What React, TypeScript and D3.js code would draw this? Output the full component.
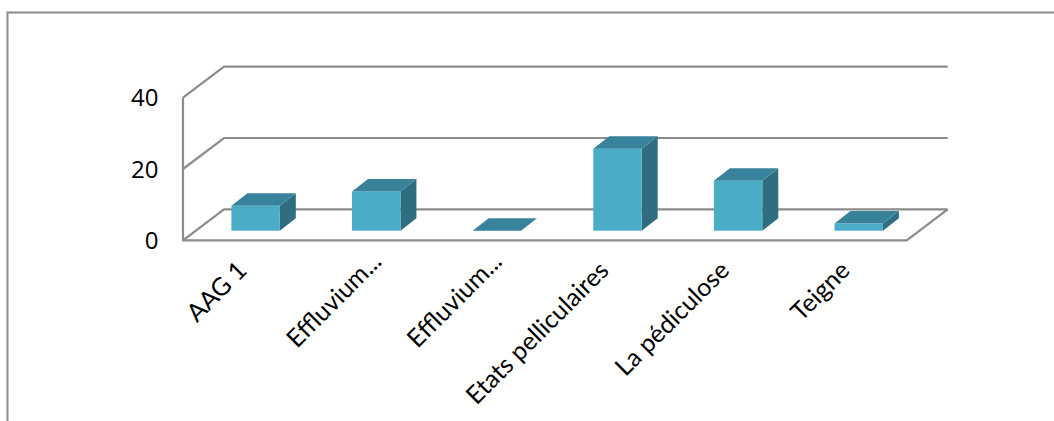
import React from "react";
import * as d3 from "d3";

const categories = ["AAG 1", "Effluvium...", "Effluvium...", "Etats pelliculaires", "La pédiculose", "Teigne"];
const values = [7, 11, 0, 23, 14, 2];
const yTicks = [0, 20, 40];

const WIDTH = 1054;
const HEIGHT = 421;
const FONT = "Lato, Carlito, Calibri, sans-serif";
const TICK_FONT = "'Open Sans', Carlito, Calibri, sans-serif";
const LINE = "#8c8c8c";

// Oblique projection of the floor and of each column
const wallDepth = { dx: 41, dy: -31 };
const barDepth = { dx: 16, dy: -12.5 };
const barFloorY = 230.7;

const x = d3.scaleBand<number>().domain(d3.range(categories.length)).range([183, 906.7]);
const y = d3.scaleLinear().domain([0, 40]).range([240.3, 97.7]);
const h = d3.scaleLinear().domain([0, 40]).range([0, 142.6]);
const barWidth = 48.4;
const barShift = 12.3;

// Truncated labels sit further up their diagonal than the full ones
const labelOffset = (c: string) => (c.endsWith("...") ? { dx: 14, dy: -9 } : { dx: 0, dy: 0 });

function poly(points: [number, number][]) {
  return points.map((p) => p.join(",")).join(" ");
}

export default function App() {
  const left = x.range()[0];
  const right = x.range()[1];
  return (
    <svg
      width={WIDTH}
      height={HEIGHT}
      style={{ position: "absolute", left: 0, top: 0, background: "#fff" }}
    >
      <path d={`M7.5,${HEIGHT}V12.5H${WIDTH}`} fill="none" stroke={LINE} strokeWidth={2} />

      {/* Back wall gridlines with their side-wall returns */}
      {yTicks.map((t) => (
        <polyline
          key={t}
          points={poly([
            [left, y(t)],
            [left + wallDepth.dx, y(t) + wallDepth.dy],
            [right + wallDepth.dx, y(t) + wallDepth.dy],
          ])}
          fill="none"
          stroke={LINE}
          strokeWidth={2.2}
        />
      ))}
      <polyline
        points={poly([
          [left, y(40)],
          [left, y(0)],
          [right, y(0)],
          [right + wallDepth.dx, y(0) + wallDepth.dy],
        ])}
        fill="none"
        stroke={LINE}
        strokeWidth={2.2}
      />

      {/* Columns */}
      {values.map((v, i) => {
        const x0 = x(i)! + x.bandwidth() / 2 - barWidth / 2 + barShift;
        const x1 = x0 + barWidth;
        const top = barFloorY - h(v);
        const { dx, dy } = barDepth;
        return (
          <g key={i}>
            <polygon
              points={poly([[x1, top], [x1 + dx, top + dy], [x1 + dx, barFloorY + dy], [x1, barFloorY]])}
              fill="#2f6e80"
            />
            <rect x={x0} y={top} width={barWidth} height={h(v)} fill="#4bacc6" />
            <polygon
              points={poly([[x0, top], [x0 + dx, top + dy], [x1 + dx, top + dy], [x1, top]])}
              fill="#38839b"
            />
          </g>
        );
      })}

      {/* Value axis labels */}
      {yTicks.map((t) => (
        <text
          key={t}
          x={158.5}
          y={y(t) + 8.5}
          textAnchor="end"
          fontFamily={TICK_FONT}
          fontSize={24}
          fill="#000"
        >
          {t}
        </text>
      ))}

      {/* Category labels, rotated */}
      {categories.map((c, i) => {
        const off = labelOffset(c);
        const cx = x(i)! + x.bandwidth() / 2 + 5 + off.dx;
        return (
          <text
            key={i}
            transform={`translate(${cx},${272 + off.dy}) rotate(-45)`}
            textAnchor="end"
            fontFamily={FONT}
            fontSize={25}
            fill="#000"
          >
            {c}
          </text>
        );
      })}
    </svg>
  );
}
